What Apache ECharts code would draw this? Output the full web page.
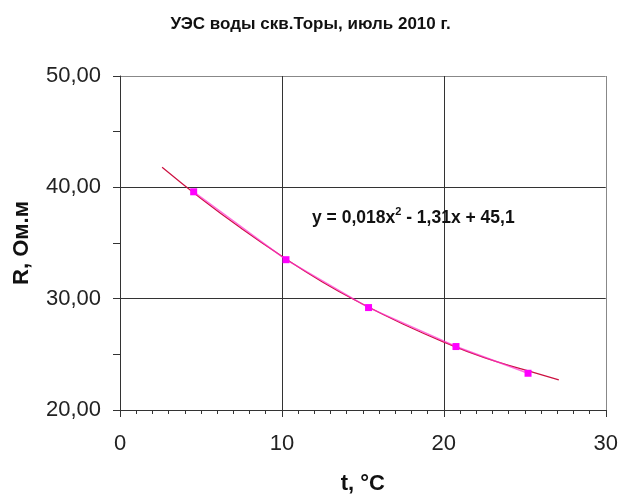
<!DOCTYPE html>
<html><head><meta charset="utf-8">
<script src="https://cdn.jsdelivr.net/npm/echarts@6/dist/echarts.min.js"></script>
<style>html,body{margin:0;padding:0;background:#fff}#c{width:621px;height:500px}</style>
</head><body><div id="c"></div>
<script>
const titleText = 'УЭС воды скв.Торы, июль 2010 г.';
const xName = 't, °C';
const yName = 'R, Ом.м';
const measuredT = [4.55, 10.25, 15.35, 20.75, 25.2];
const measuredR = [39.6, 33.5, 29.2, 25.7, 23.3];
const trendT = [2.6, 5, 7.5, 10, 12.5, 15, 17.5, 20, 22.5, 25, 27.1];
const trendR = [41.8, 39.0, 36.3, 33.8, 31.5, 29.5, 27.7, 26.1, 24.7, 23.6, 22.7];
const FONT = '"Liberation Sans", Arial, sans-serif';

const chart = echarts.init(document.getElementById('c'));
chart.setOption({
  animation: false,
  backgroundColor: '#fff',
  title: {
    text: titleText, left: 'center', top: 11,
    textStyle: {fontFamily: FONT, fontSize: 17, fontWeight: 'bold', color: '#111'}
  },
  grid: {left: 120, right: 13, top: 76, bottom: 88},
  xAxis: {
    type: 'value', min: 0, max: 30, interval: 10,
    name: xName, nameLocation: 'middle', nameGap: 63,
    nameTextStyle: {fontFamily: FONT, fontSize: 22, fontWeight: 'bold', color: '#111'},
    axisLine: {onZero: false, lineStyle: {color: '#333', width: 1}},
    axisTick: {show: true, length: 7, lineStyle: {color: '#333'}},
    minorTick: {show: true, splitNumber: 10, length: 4, lineStyle: {color: '#333'}},
    axisLabel: {fontFamily: FONT, fontSize: 22, color: '#222', margin: 23},
    splitLine: {show: true, lineStyle: {color: ['#333', '#333', '#333', '#888'], width: 1}}
  },
  yAxis: {
    type: 'value', min: 20, max: 50, interval: 10,
    name: yName, nameLocation: 'middle', nameGap: 87,
    nameTextStyle: {fontFamily: FONT, fontSize: 22, fontWeight: 'bold', color: '#111'},
    axisLine: {onZero: false, lineStyle: {color: '#333', width: 1}},
    axisTick: {show: true, length: 7, lineStyle: {color: '#333'}},
    minorTick: {show: true, splitNumber: 2, length: 7, lineStyle: {color: '#333'}},
    axisLabel: {fontFamily: FONT, fontSize: 22, color: '#222', margin: 19,
      formatter: v => v.toFixed(2).replace('.', ',')},
    splitLine: {show: true, lineStyle: {color: ['#333', '#333', '#333', '#888'], width: 1}}
  },
  graphic: [{
    type: 'text', left: 312, top: 206, z: 100,
    style: {
      text: '{a|y = 0,018x}{s|2}{a| - 1,31x + 45,1}',
      rich: {
        a: {fontFamily: FONT, fontSize: 17.5, fontWeight: 'bold', fill: '#111', verticalAlign: 'bottom'},
        s: {fontFamily: FONT, fontSize: 11, fontWeight: 'bold', fill: '#111', verticalAlign: 'top', padding: [0, 0, 10, 0]}
      }
    }
  }],
  series: [
    {
      type: 'line', name: 'trend', data: trendT.map((t, i) => [t, trendR[i]]),
      smooth: true, symbol: 'none',
      lineStyle: {color: '#cc1040', width: 1.2}, z: 3
    },
    {
      type: 'line', name: 'R', data: measuredT.map((t, i) => [t, measuredR[i]]),
      symbol: 'rect', symbolSize: 7,
      itemStyle: {color: '#ff00ff'},
      lineStyle: {color: '#ff33cc', width: 1.5, opacity: 0.7}, z: 4
    }
  ]
});
</script></body></html>
